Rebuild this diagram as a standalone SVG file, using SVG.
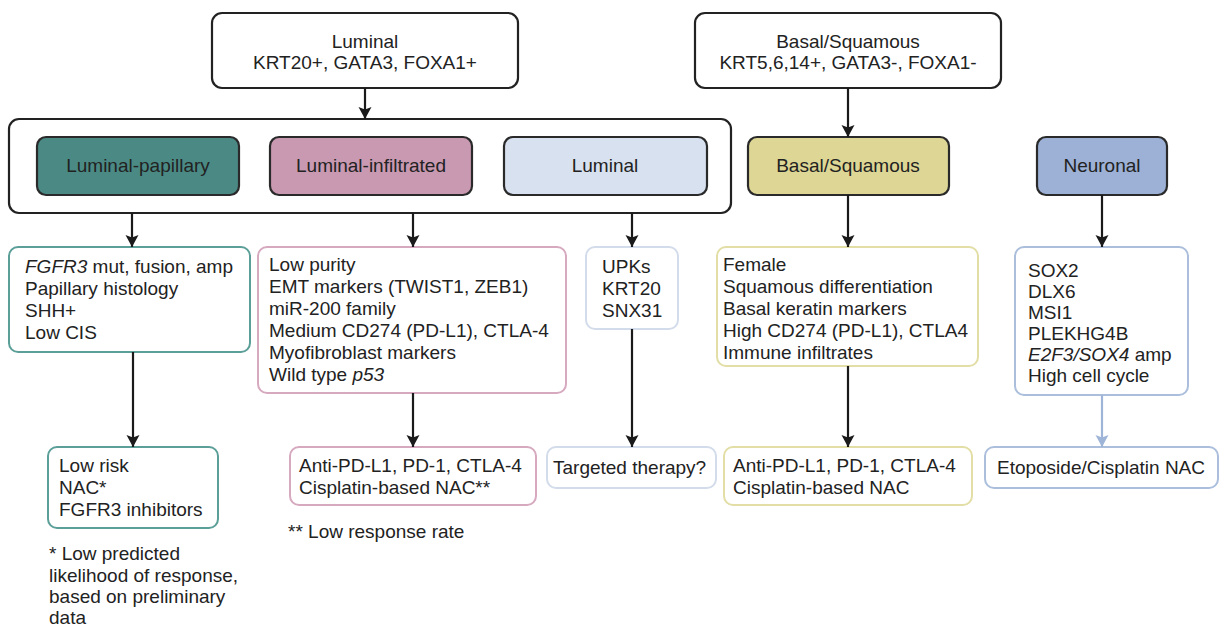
<svg xmlns="http://www.w3.org/2000/svg" width="1231" height="633" viewBox="0 0 1231 633">
<defs>
<style>
text{font-family:"Liberation Sans",Arial,Helvetica,sans-serif;font-size:19px;fill:#222}
.c{text-anchor:middle}
.i{font-style:italic}
.blk{fill:#fff;stroke:#222;stroke-width:2.2}
.sub{stroke:#2a2a2a;stroke-width:2.2}
.det{fill:#fff;stroke-width:2}
.con{stroke:#1a1a1a;stroke-width:2.2;fill:none}
</style>
<marker id="ah" viewBox="0 0 12 14" refX="12" refY="7" markerWidth="13" markerHeight="14" markerUnits="userSpaceOnUse" orient="auto">
<path d="M0,0.5 L12,7 L0,13.5 L2.5,7 z" fill="#1a1a1a"/>
</marker>
<marker id="ahb" viewBox="0 0 12 14" refX="12" refY="7" markerWidth="13" markerHeight="14" markerUnits="userSpaceOnUse" orient="auto">
<path d="M0,0.5 L12,7 L0,13.5 L2.5,7 z" fill="#9fb5d8"/>
</marker>
</defs>

<g id="top-luminal">
<rect class="blk" x="212" y="13" width="306" height="75" rx="10"/>
<text class="c" x="365" y="48">Luminal</text>
<text class="c" x="365" y="69">KRT20+, GATA3, FOXA1+</text>
</g>
<g id="top-basal">
<rect class="blk" x="695" y="13" width="306" height="75" rx="10"/>
<text class="c" x="848" y="48">Basal/Squamous</text>
<text class="c" x="848" y="69">KRT5,6,14+, GATA3-, FOXA1-</text>
</g>

<g id="luminal-group">
<rect class="blk" x="9" y="119" width="722" height="94" rx="10"/>
</g>
<g id="sub-lp">
<rect class="sub" x="37" y="137" width="202" height="58" rx="9" fill="#4b8a84"/>
<text class="c" x="138" y="172">Luminal-papillary</text>
</g>
<g id="sub-li">
<rect class="sub" x="270" y="137" width="202" height="58" rx="9" fill="#c999b1"/>
<text class="c" x="371" y="172">Luminal-infiltrated</text>
</g>
<g id="sub-l">
<rect class="sub" x="504" y="137" width="203" height="58" rx="9" fill="#d8e1ef"/>
<text class="c" x="605" y="172">Luminal</text>
</g>
<g id="sub-bs">
<rect class="sub" x="748" y="137" width="201" height="58" rx="9" fill="#ddd695"/>
<text class="c" x="848" y="172">Basal/Squamous</text>
</g>
<g id="sub-n">
<rect class="sub" x="1037" y="137" width="130" height="58" rx="9" fill="#9cb1d5"/>
<text class="c" x="1102" y="172">Neuronal</text>
</g>

<g id="det-lp">
<rect class="det" x="9" y="247" width="241" height="105" rx="9" stroke="#5c9f99"/>
<text x="25" y="273"><tspan class="i">FGFR3</tspan> mut, fusion, amp</text>
<text x="25" y="295">Papillary histology</text>
<text x="25" y="317">SHH+</text>
<text x="25" y="339">Low CIS</text>
</g>
<g id="det-li">
<rect class="det" x="258" y="247" width="308" height="146" rx="9" stroke="#d6a9bf"/>
<text x="269" y="271">Low purity</text>
<text x="269" y="293">EMT markers (TWIST1, ZEB1)</text>
<text x="269" y="315">miR-200 family</text>
<text x="269" y="337">Medium CD274 (PD-L1), CTLA-4</text>
<text x="269" y="359">Myofibroblast markers</text>
<text x="269" y="381">Wild type <tspan class="i">p53</tspan></text>
</g>
<g id="det-l">
<rect class="det" x="586" y="247" width="92" height="82" rx="9" stroke="#d3dcea"/>
<text x="602" y="273">UPKs</text>
<text x="602" y="295">KRT20</text>
<text x="602" y="317">SNX31</text>
</g>
<g id="det-bs">
<rect class="det" x="717" y="247" width="261" height="119" rx="9" stroke="#e2dea6"/>
<text x="723" y="271">Female</text>
<text x="723" y="293">Squamous differentiation</text>
<text x="723" y="315">Basal keratin markers</text>
<text x="723" y="337">High CD274 (PD-L1), CTLA4</text>
<text x="723" y="359">Immune infiltrates</text>
</g>
<g id="det-n">
<rect class="det" x="1015" y="247" width="173" height="148" rx="9" stroke="#abbfdc"/>
<text x="1028" y="277">SOX2</text>
<text x="1028" y="298">DLX6</text>
<text x="1028" y="319">MSI1</text>
<text x="1028" y="340">PLEKHG4B</text>
<text x="1028" y="361"><tspan class="i">E2F3/SOX4</tspan> amp</text>
<text x="1028" y="382">High cell cycle</text>
</g>

<g id="tx-lp">
<rect class="det" x="48" y="447" width="170" height="81" rx="9" stroke="#5c9f99"/>
<text x="59" y="472">Low risk</text>
<text x="59" y="494">NAC*</text>
<text x="59" y="516">FGFR3 inhibitors</text>
</g>
<g id="tx-li">
<rect class="det" x="290" y="447" width="246" height="58" rx="9" stroke="#d6a9bf"/>
<text x="299" y="472">Anti-PD-L1, PD-1, CTLA-4</text>
<text x="299" y="494">Cisplatin-based NAC**</text>
</g>
<g id="tx-l">
<rect class="det" x="547" y="447" width="169" height="41" rx="9" stroke="#d3dcea"/>
<text x="553" y="474">Targeted therapy?</text>
</g>
<g id="tx-bs">
<rect class="det" x="724" y="447" width="248" height="58" rx="9" stroke="#e2dea6"/>
<text x="733" y="472">Anti-PD-L1, PD-1, CTLA-4</text>
<text x="733" y="494">Cisplatin-based NAC</text>
</g>
<g id="tx-n">
<rect class="det" x="985" y="447" width="233" height="41" rx="9" stroke="#abbfdc"/>
<text class="c" x="1101" y="474">Etoposide/Cisplatin NAC</text>
</g>

<g id="footnotes">
<text x="49" y="560">* Low predicted</text>
<text x="49" y="582">likelihood of response,</text>
<text x="49" y="603">based on preliminary</text>
<text x="49" y="624">data</text>
<text x="288" y="538">** Low response rate</text>
</g>

<g id="connectors">
<line class="con" x1="365" y1="88" x2="365" y2="119" marker-end="url(#ah)"/>
<line class="con" x1="848" y1="88" x2="848" y2="137" marker-end="url(#ah)"/>
<line class="con" x1="132" y1="213" x2="132" y2="247" marker-end="url(#ah)"/>
<line class="con" x1="413" y1="213" x2="413" y2="247" marker-end="url(#ah)"/>
<line class="con" x1="632" y1="213" x2="632" y2="247" marker-end="url(#ah)"/>
<line class="con" x1="848" y1="195" x2="848" y2="247" marker-end="url(#ah)"/>
<line class="con" x1="1102" y1="195" x2="1102" y2="247" marker-end="url(#ah)"/>
<line class="con" x1="133" y1="352" x2="133" y2="447" marker-end="url(#ah)"/>
<line class="con" x1="413" y1="393" x2="413" y2="447" marker-end="url(#ah)"/>
<line class="con" x1="632" y1="329" x2="632" y2="447" marker-end="url(#ah)"/>
<line class="con" x1="848" y1="366" x2="848" y2="447" marker-end="url(#ah)"/>
<line class="con" x1="1102" y1="395" x2="1102" y2="447" style="stroke:#9fb5d8" marker-end="url(#ahb)"/>
</g>
</svg>
